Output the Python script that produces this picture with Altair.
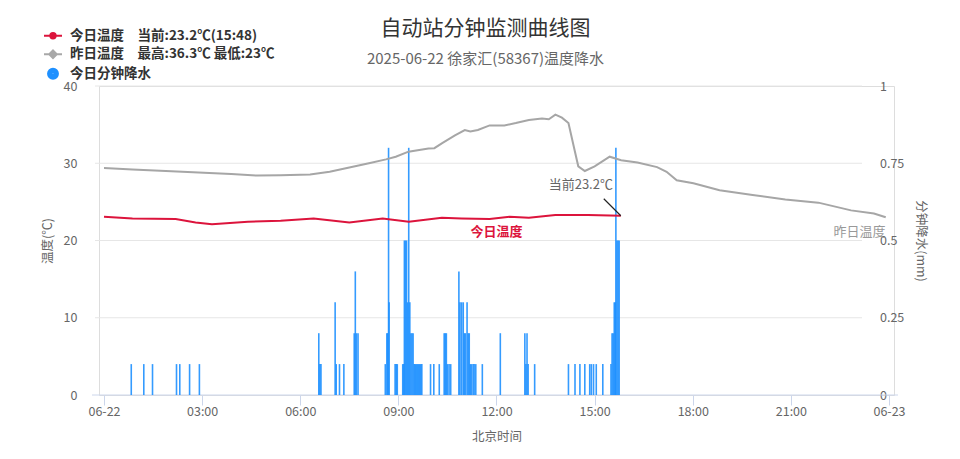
import altair as alt
import pandas as pd

F = "Noto Sans CJK SC"

# yesterday temperature: hour of day, degC
y_hours = [0, 0.87, 1.89, 2.89, 3.89, 4.7, 5.4, 6.3, 6.9, 7.5, 8.1, 8.62, 8.92, 9.31, 9.92, 10.1, 10.34,
           10.73, 11.03, 11.2, 11.43, 11.79, 12.24, 12.59, 12.99, 13.39, 13.6, 13.8, 14.0, 14.2, 14.35,
           14.5, 14.7, 15.0, 15.46, 15.81, 16.31, 16.91, 17.2, 17.51, 18.02, 18.82, 19.83, 20.83,
           21.84, 22.84, 23.54, 23.9]
y_temps = [29.4, 29.2, 29.0, 28.8, 28.6, 28.4, 28.45, 28.55, 28.9, 29.45, 30.0, 30.5, 30.85, 31.5, 31.9, 31.95, 32.6,
           33.6, 34.3, 34.1, 34.3, 34.9, 34.9, 35.2, 35.6, 35.8, 35.7, 36.3, 35.9, 35.2, 32.4,
           29.6, 29.0, 29.6, 30.85, 30.4, 30.1, 29.5, 28.9, 27.8, 27.4, 26.5, 25.9, 25.3,
           24.9, 23.9, 23.5, 23.0]

# today temperature: hour of day, degC
t_hours = [0, 0.87, 2.19, 2.8, 3.3, 4.4, 5.4, 6.41, 7.5, 8.52, 9.32, 10.33, 10.93, 11.79, 12.4, 12.99,
           13.8, 14.8, 15.8]
t_temps = [23.07, 22.86, 22.77, 22.34, 22.12, 22.42, 22.55, 22.86, 22.34, 22.86, 22.42, 22.94, 22.86,
           22.77, 23.07, 22.94, 23.29, 23.3, 23.2]

# minute precipitation: minute of day, mm
rain_minutes = [50, 73, 89, 133, 139, 157, 175,
                394, 396, 398,
                424, 426, 432, 440,
                459, 461, 463, 466,
                516, 519, 520, 522, 523,
                534, 536, 538,
                548, 550, 551, 553, 555, 557, 559, 561, 563, 565, 567, 569, 571, 573, 575, 577, 579, 581, 583,
                599, 605, 615,
                624, 626, 628, 630, 633, 636,
                651, 653, 656, 659, 661, 663, 666, 668, 670, 672, 674, 677, 679, 682,
                694, 727,
                772, 774, 776, 778, 790,
                852, 864, 873, 882, 891, 894, 898, 903, 915,
                930, 932, 934, 936, 938, 939, 941, 943, 945]
rain_values = [0.1, 0.1, 0.1, 0.1, 0.1, 0.1, 0.1,
               0.2, 0.1, 0.1,
               0.3, 0.1, 0.1, 0.1,
               0.2, 0.4, 0.2, 0.2,
               0.1, 0.2, 0.2, 0.8, 0.3,
               0.1, 0.1, 0.1,
               0.1, 0.1, 0.5, 0.5, 0.5, 0.3, 0.8, 0.3, 0.2, 0.2, 0.2, 0.1, 0.1, 0.1, 0.1, 0.1, 0.1, 0.1, 0.1,
               0.1, 0.1, 0.1,
               0.2, 0.2, 0.2, 0.1, 0.1, 0.1,
               0.4, 0.3, 0.3, 0.3, 0.2, 0.2, 0.3, 0.2, 0.2, 0.1, 0.1, 0.1, 0.1, 0.1,
               0.1, 0.2,
               0.2, 0.1, 0.2, 0.1, 0.1,
               0.1, 0.1, 0.1, 0.1, 0.1, 0.1, 0.1, 0.1, 0.1,
               0.1, 0.2, 0.2, 0.3, 0.3, 0.8, 0.5, 0.5, 0.5]

x_tick_minutes = [0, 180, 360, 540, 720, 900, 1080, 1260, 1440]
x_tick_labels = ["06-22", "03:00", "06:00", "09:00", "12:00", "15:00", "18:00", "21:00", "06-23"]
left_ticks = [0, 10, 20, 30, 40]
right_ticks = [0, 0.25, 0.5, 0.75, 1]

legend_labels = ["今日温度\u3000当前:23.2℃(15:48)", "昨日温度\u3000最高:36.3℃ 最低:23℃", "今日分钟降水"]
legend_colors = ["#dc143c", "#a8a8a8", "#1e90ff"]


def _circ(r):
    return f"M{-r},0A{r},{r},0,1,0,{r},0A{r},{r},0,1,0,{-r},0Z"


def _diam(r):
    return f"M0,{-r}L{r},0L0,{r}L{-r},0Z"


legend_shapes = [
    "M-1,0L1,0" + _circ(0.3) + _circ(0.1),
    "M-1,0L1,0" + _diam(0.42) + _diam(0.26) + _diam(0.1),
    _circ(0.55) + _circ(0.35) + _circ(0.15),
]

series_label_text = ["今日温度", "昨日温度"]
series_label_minutes = [720, 1386]
series_label_temps = [22.9, 23.8]

now_text = ["当前23.2℃"]

ydf = pd.DataFrame({"m": [h * 60 for h in y_hours], "t": y_temps})
tdf = pd.DataFrame({"m": [h * 60 for h in t_hours], "t": t_temps})
rdf = pd.DataFrame({"m": rain_minutes, "v": rain_values})
ldf = pd.DataFrame({"s": legend_labels})
now_df = pd.DataFrame({"m": [t_hours[-1] * 60], "t": [t_temps[-1]], "txt": now_text})
lab_today = pd.DataFrame({"m": [series_label_minutes[0]], "t": [series_label_temps[0]], "txt": [series_label_text[0]]})
lab_yest = pd.DataFrame({"m": [series_label_minutes[1]], "t": [series_label_temps[1]], "txt": [series_label_text[1]]})

expr = ""
for v, l in zip(x_tick_minutes, x_tick_labels):
    expr += f"datum.value=={v}?'{l}':"
expr += "''"

xscale = alt.Scale(domain=[0, 1440], nice=False, zero=False)
tscale = alt.Scale(domain=[0, 40], nice=False)
rscale = alt.Scale(domain=[0, 1], nice=False)

xaxis = alt.Axis(values=x_tick_minutes, labelExpr=expr, grid=False, domain=False, ticks=True,
                 tickSize=10, tickColor="#ccd6eb", labelPadding=0, labelFlush=False,
                 labelFont=F, labelFontSize=12.5, labelColor="#666666",
                 title="北京时间", titleFont=F, titleFontSize=12.5, titleColor="#666666",
                 titleFontWeight="normal", titleY=41, titleBaseline="middle")
X = alt.X("m:Q", scale=xscale, axis=xaxis)

leftaxis = alt.Axis(orient="left", values=left_ticks, grid=False, domain=False, ticks=False,
                    labelPadding=22, labelFont=F, labelFontSize=12.5, labelColor="#666666",
                    title="温度(℃)", titleFont=F, titleFontSize=12.5, titleColor="#666666",
                    titleFontWeight="normal", titleX=-52, titleY=154.5, titleAngle=270,
                    titleAlign="center", titleBaseline="middle")
rightaxis = alt.Axis(orient="right", values=right_ticks, format=".2~f", grid=False, domain=False, ticks=False,
                     labelPadding=-14.5, labelAlign="left", labelFont=F, labelFontSize=12.5,
                     labelColor="#666666",
                     title="分钟降水(mm)", titleFont=F, titleFontSize=12.5, titleColor="#666666",
                     titleFontWeight="normal", titleX=26, titleY=154.5, titleAngle=90,
                     titleAlign="center", titleBaseline="middle")

grid = alt.Chart(pd.DataFrame({"g": left_ticks[1:]})).mark_rule(color="#e6e6e6", strokeWidth=1).encode(
    y=alt.Y("g:Q", scale=tscale, axis=None), x=alt.value(-4), x2=alt.value(763))
axisline = alt.Chart(pd.DataFrame({"g": left_ticks[:1]})).mark_rule(color="#ccd6eb", strokeWidth=1).encode(
    y=alt.Y("g:Q", scale=tscale, axis=None), x=alt.value(-7), x2=alt.value(799))
base = alt.layer(grid, axisline)

rain = alt.Chart(rdf).mark_bar(size=1.6, color="#1e90ff", opacity=0.9).encode(
    x=X, y=alt.Y("v:Q", scale=rscale, axis=rightaxis))

gray = alt.Chart(ydf).mark_line(color="#a6a6a6", strokeWidth=2).encode(
    x=X, y=alt.Y("t:Q", scale=tscale, axis=leftaxis))
red = alt.Chart(tdf).mark_line(color="#dc143c", strokeWidth=2).encode(
    x=X, y=alt.Y("t:Q", scale=tscale, axis=leftaxis))

lt = alt.Chart(lab_today).mark_text(font=F, fontSize=13, fontWeight="bold", color="#dc143c", dy=14).encode(
    x=X, y=alt.Y("t:Q", scale=tscale, axis=leftaxis), text="txt:N")
ly = alt.Chart(lab_yest).mark_text(font=F, fontSize=13, color="#999999", dy=21).encode(
    x=X, y=alt.Y("t:Q", scale=tscale, axis=leftaxis), text="txt:N")

pointer = alt.Chart(now_df).mark_point(shape="M0,0L-1,-1", size=1156, filled=False, color="#222222",
                                       strokeWidth=1.2, opacity=1).encode(
    x=X, y=alt.Y("t:Q", scale=tscale, axis=leftaxis))
nowtxt = alt.Chart(now_df).mark_text(font=F, fontSize=13, color="#666666", dx=-40, dy=-31).encode(
    x=X, y=alt.Y("t:Q", scale=tscale, axis=leftaxis), text="txt:N")

L = alt.Legend(orient="none", legendX=-56, legendY=-60.3, title=None, direction="vertical",
               labelFont=F, labelFontSize=13.5, labelFontWeight="bold", labelColor="#333333",
               symbolSize=324, symbolStrokeWidth=2, rowPadding=1.5, labelOffset=7, padding=0,
               symbolOpacity=1, labelLimit=400)
leg = alt.Chart(ldf).mark_point(filled=False, opacity=0, strokeWidth=2).encode(
    color=alt.Color("s:N", scale=alt.Scale(domain=legend_labels, range=legend_colors), legend=L),
    shape=alt.Shape("s:N", scale=alt.Scale(domain=legend_labels, range=legend_shapes), legend=L))

temps = alt.layer(gray, red, lt, ly, pointer, nowtxt, leg)

chart = alt.layer(base, rain, temps).resolve_scale(y="independent").properties(
    width=795, height=309,
    autosize=alt.AutoSizeParams(type="none"),
    padding={"left": 91, "top": 78, "right": 55, "bottom": 50},
    title=alt.TitleParams(text="自动站分钟监测曲线图", subtitle="2025-06-22 徐家汇(58367)温度降水",
                          anchor="middle", font=F, fontSize=21, fontWeight="normal", color="#333333",
                          subtitleFont=F, subtitleFontSize=15, subtitleColor="#666666",
                          subtitlePadding=13, offset=-41, dx=-11),
).configure_view(stroke=None).configure(background="white")

chart.save("out.html", embed_options={"renderer": "svg", "actions": False})
